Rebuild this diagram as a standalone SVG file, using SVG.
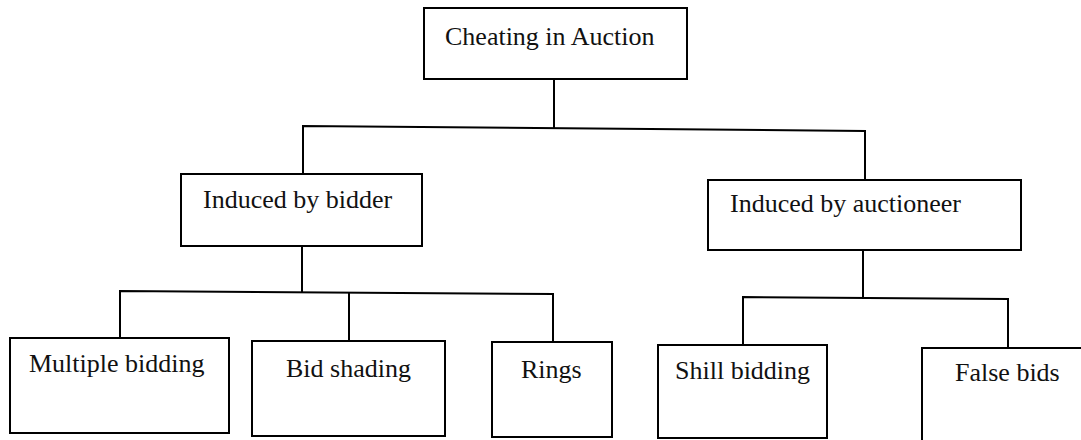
<svg xmlns="http://www.w3.org/2000/svg" width="1081" height="440" viewBox="0 0 1081 440">
  <style>
    .box { fill: #ffffff; stroke: #000000; stroke-width: 2; }
    .conn { fill: none; stroke: #000000; stroke-width: 2; stroke-linejoin: miter; }
    .label { font-family: "Liberation Serif", "Times New Roman", serif; font-size: 26px; fill: #111111; }
  </style>
  <rect x="0" y="0" width="1081" height="440" fill="#ffffff"/>
  <g id="connectors">
    <path class="conn" d="M554,79 V128.5"/>
    <path class="conn" d="M303,174 V126 L865,131 V180"/>
    <path class="conn" d="M302,246 V292"/>
    <path class="conn" d="M120,338 V291 L553,294 V342"/>
    <path class="conn" d="M349,293 V341"/>
    <path class="conn" d="M863,250 V297"/>
    <path class="conn" d="M743,345 V297 L1008,299 V348"/>
  </g>
  <g id="node-root">
    <rect class="box" x="424" y="8" width="263" height="71"/>
    <text class="label" x="445" y="45">Cheating in Auction</text>
  </g>
  <g id="node-bidder">
    <rect class="box" x="181" y="174" width="241" height="72"/>
    <text class="label" x="203" y="208">Induced by bidder</text>
  </g>
  <g id="node-auctioneer">
    <rect class="box" x="708" y="180" width="313" height="70"/>
    <text class="label" x="730" y="212">Induced by auctioneer</text>
  </g>
  <g id="node-multiple">
    <rect class="box" x="10" y="338" width="219" height="95"/>
    <text class="label" x="29" y="372">Multiple bidding</text>
  </g>
  <g id="node-shading">
    <rect class="box" x="252" y="341" width="193" height="95"/>
    <text class="label" x="286" y="377">Bid shading</text>
  </g>
  <g id="node-rings">
    <rect class="box" x="492" y="342" width="120" height="95"/>
    <text class="label" x="521" y="378">Rings</text>
  </g>
  <g id="node-shill">
    <rect class="box" x="658" y="345" width="169" height="93"/>
    <text class="label" x="675" y="379">Shill bidding</text>
  </g>
  <g id="node-false">
    <rect class="box" x="922" y="348" width="170" height="100"/>
    <text class="label" x="955" y="381">False bids</text>
  </g>
</svg>
